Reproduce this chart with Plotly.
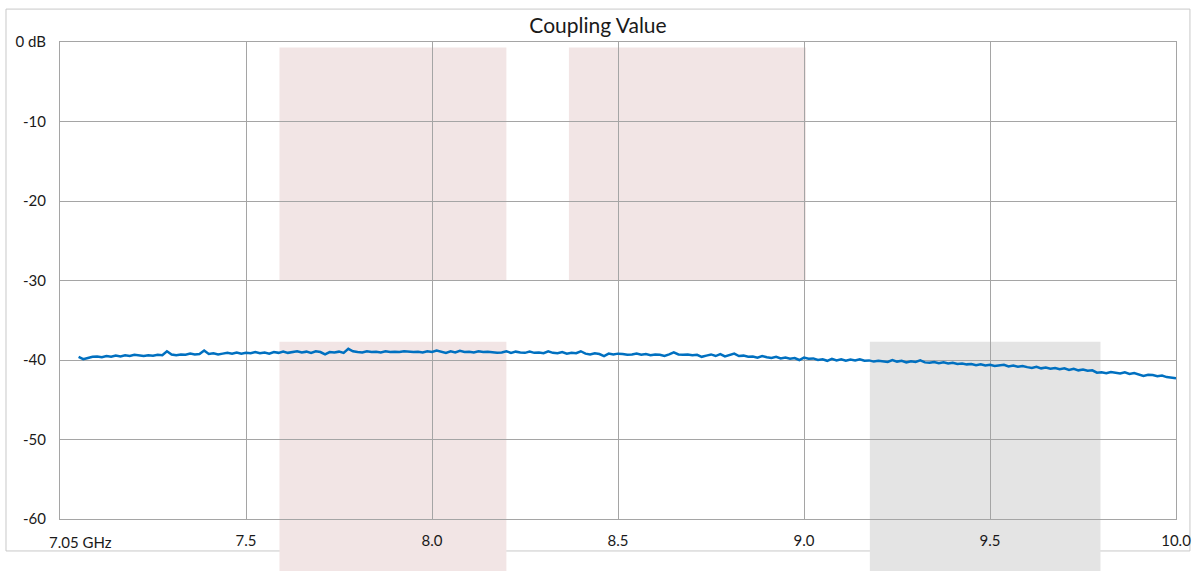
import numpy as np
import plotly.graph_objects as go

chart_title = "Coupling Value"

# Measured coupling (dB), evenly spaced sweep from 7.05 GHz to 10.0 GHz
coupling_db = [
    -39.6, -39.9, -39.75, -39.6, -39.55, -39.65, -39.5, -39.6,
    -39.45, -39.55, -39.4, -39.5, -39.35, -39.45, -39.5, -39.4,
    -39.45, -39.35, -39.4, -38.9, -39.3, -39.4, -39.3, -39.35,
    -39.2, -39.3, -39.25, -38.8, -39.25, -39.15, -39.3, -39.2,
    -39.1, -39.2, -39.05, -39.2, -39.1, -39.15, -39.0, -39.15,
    -39.05, -39.2, -39.0, -39.1, -38.95, -39.1, -39.0, -38.9,
    -39.05, -38.95, -39.1, -38.9, -39.0, -39.3, -39.0, -39.05,
    -38.95, -39.1, -38.6, -38.9, -39.0, -39.05, -38.9, -39.0,
    -38.95, -39.05, -38.9, -39.0, -38.95, -39.0, -38.9, -38.95,
    -39.0, -38.95, -39.05, -38.9, -39.0, -38.8, -39.0, -39.1,
    -38.9, -39.05, -38.85, -39.0, -38.95, -39.05, -38.9, -39.0,
    -38.95, -39.05, -39.1, -39.05, -38.9, -39.1, -38.95, -39.05,
    -39.1, -38.95, -39.1, -39.05, -39.15, -38.9, -39.1, -39.15,
    -39.0, -39.2, -39.1, -39.15, -38.9, -39.2, -39.3, -39.15,
    -39.25, -39.5, -39.2, -39.3, -39.2, -39.25, -39.35, -39.3,
    -39.2, -39.35, -39.25, -39.4, -39.3, -39.35, -39.5, -39.3,
    -39.05, -39.3, -39.35, -39.3, -39.4, -39.35, -39.6, -39.45,
    -39.3, -39.5, -39.25, -39.55, -39.4, -39.2, -39.5, -39.45,
    -39.6, -39.55, -39.7, -39.5, -39.65, -39.75, -39.6, -39.8,
    -39.7, -39.85, -39.75, -40.0, -39.7, -39.85, -39.8, -40.0,
    -39.9, -40.1, -39.85, -40.05, -39.9, -40.1, -39.95, -40.05,
    -39.9, -40.1, -40.05, -40.2, -40.1, -40.15, -40.25, -40.0,
    -40.2, -40.1, -40.3, -40.15, -40.25, -40.05, -40.3, -40.35,
    -40.25, -40.4, -40.3, -40.45, -40.35, -40.5, -40.45, -40.55,
    -40.5, -40.65, -40.55, -40.7, -40.6, -40.75, -40.65, -40.6,
    -40.8, -40.7, -40.85, -40.75, -40.9, -41.0, -40.85, -41.05,
    -40.95, -41.1, -41.0, -41.15, -41.05, -41.25, -41.1, -41.3,
    -41.2, -41.35, -41.3, -41.6, -41.55, -41.65, -41.5, -41.6,
    -41.7, -41.55, -41.75, -41.65, -41.8, -42.0, -41.85, -41.9,
    -42.05, -41.95, -42.15, -42.2, -42.3,
]
freq_start_ghz = 7.05
freq_stop_ghz = 10.0
freq_ghz = np.linspace(freq_start_ghz, freq_stop_ghz, len(coupling_db))

x_tick_vals = [7.0, 7.5, 8.0, 8.5, 9.0, 9.5, 10.0]
x_tick_text = ["", "7.5", "8.0", "8.5", "9.0", "9.5", "10.0"]
x_first_label = "7.05 GHz"
y_tick_vals = [0, -10, -20, -30, -40, -50, -60]
y_tick_text = ["0 dB", "-10", "-20", "-30", "-40", "-50", "-60"]

# highlighted bands (GHz)
upper_bands = [(7.59, 8.2), (8.368, 9.005)]
upper_band_db = (-0.7, -30.0)
lower_bands = [(7.59, 8.2, "#f2e5e5"), (9.177, 9.797, "#e4e4e4")]
lower_band_top_db = -37.7

PINK = "#f2e5e5"
GRID = "#a5a5a5"
BORDER = "#c8c8c8"
FONT = "Lato"
TXT = "#1a1a1a"
TICK_SIZE = 15

fig = go.Figure()
fig.add_trace(go.Scatter(
    x=freq_ghz, y=coupling_db, mode="lines",
    line=dict(color="#0070c0", width=2.5), showlegend=False,
))

shapes = []
# outer chart frame
shapes.append(dict(type="rect", xref="paper", yref="paper",
                   x0=-0.0484, x1=1.0125, y0=-0.067, y1=1.069,
                   line=dict(color=BORDER, width=1), fillcolor="rgba(0,0,0,0)",
                   layer="below"))
y_lo, y_hi = -60.0, 0.0
for (a, b) in upper_bands:
    shapes.append(dict(type="rect", xref="x", yref="y", x0=a, x1=b,
                       y0=upper_band_db[1], y1=upper_band_db[0],
                       fillcolor=PINK, line=dict(width=0), layer="below"))
for (a, b, c) in lower_bands:
    top = (lower_band_top_db - y_lo) / (y_hi - y_lo)
    shapes.append(dict(type="rect", xref="x", yref="paper", x0=a, x1=b,
                       y0=-0.3, y1=top,
                       fillcolor=c, line=dict(width=0), layer="below"))

fig.update_layout(
    width=1196, height=571,
    margin=dict(l=60, r=20, t=42, b=52, autoexpand=False),
    paper_bgcolor="white", plot_bgcolor="rgba(0,0,0,0)",
    font=dict(family=FONT, size=TICK_SIZE, color=TXT),
    title=dict(text=chart_title, x=0.5, xanchor="center", xref="container",
               y=1 - 26 / 571, yanchor="middle", yref="container",
               font=dict(family=FONT, size=21, color=TXT)),
    shapes=shapes,
    annotations=[dict(text=x_first_label, x=7.055, xref="x", xanchor="center",
                      y=0, yref="paper", yanchor="top", yshift=-12,
                      showarrow=False, font=dict(family=FONT, size=TICK_SIZE, color=TXT))],
    xaxis=dict(range=[7.0, 10.0], tickmode="array", tickvals=x_tick_vals,
               ticktext=x_tick_text, showgrid=True, gridcolor=GRID, gridwidth=1,
               showline=True, linecolor=GRID, linewidth=1, mirror=True,
               ticks="", ticklabelstandoff=8, zeroline=False, automargin=False),
    yaxis=dict(range=[-60, 0], tickmode="array", tickvals=y_tick_vals,
               ticktext=y_tick_text, showgrid=True, gridcolor=GRID, gridwidth=1,
               showline=True, linecolor=GRID, linewidth=1, mirror=True,
               ticks="", ticklabelstandoff=10, zeroline=False, automargin=False),
)

fig.write_html("out.html", config={"displayModeBar": False},
               post_script="document.body.style.margin='0';")
